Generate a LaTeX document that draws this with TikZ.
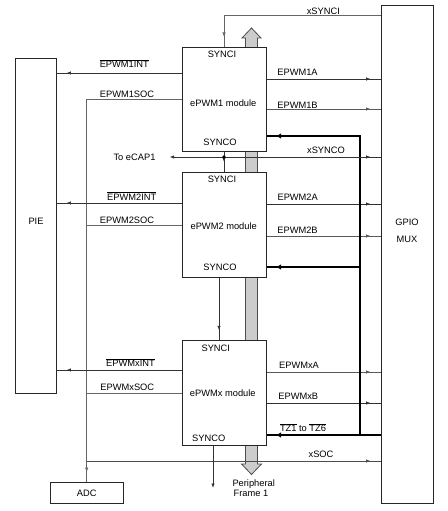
\documentclass[tikz,border=0pt]{standalone}
\usepackage{fontspec}
\setmainfont{Liberation Sans}
\usetikzlibrary{arrows.meta, decorations.markings}
\newcommand{\negsig}[1]{$\overline{\mbox{#1}}$}
\tikzstyle{box} = [rectangle, draw=black!85, line width=0.9pt, fill=white, inner sep=0pt]
\tikzstyle{lab} = [inner sep=0pt]
\tikzstyle{wire} = [line width=0.8pt, black!80]
\tikzstyle{sig} = [wire, postaction={decorate}, decoration={markings, mark=at position -10pt with {\arrow{Latex[length=4.5pt,width=3.5pt]}}}]
\tikzstyle{heavy} = [line width=1.8pt, black, postaction={decorate}, decoration={markings, mark=at position -10pt with {\arrow{Latex[length=5pt,width=5.5pt]}}}]
\tikzstyle{pbus} = [draw=black!70, fill=black!20, line width=0.8pt]
\begin{document}
\begin{tikzpicture}[x=1pt, y=-1pt, font=\fontsize{9.3}{11}\selectfont]
          \useasboundingbox (0,0) rectangle (447,511);
          \draw [pbus] (245.5,38) -- (242,38) -- (251.5,28) -- (261,38) -- (257.5,38) -- (257.5,464) -- (261.5,464) -- (251.5,474.5) -- (241.5,464) -- (245.5,464) -- cycle;
          \node (pie) [box, minimum width=41pt, minimum height=335pt] at (35.5,225.5) {};
          \node (gpio) [box, minimum width=52pt, minimum height=498pt] at (407,254) {};
          \node (adc) [box, minimum width=73pt, minimum height=21pt] at (86.7,493) {ADC};
          \node (ecap) [lab] at (134.5,157) {To eCAP1};
          \coordinate (s1) at (224,157);
          \coordinate (tz) at (360,435);
          \coordinate (pf) at (213,488);
          \draw [sig, black!60] (gpio.west |- 0,15.7) -| (224,47);
          \draw [sig] (182,73) -- (pie.east |- 0,73);
          \draw [sig, black!60] (182,99) -| (adc.north);
          \draw [wire, black!60] (182,225) -- (adc.north |- 0,225);
          \draw [wire, black!60] (182,393) -- (adc.north |- 0,393);
          \draw [sig, black!70] (adc.north |- 0,461) -- (gpio.west |- 0,461);
          \draw [sig] (182,203) -- (pie.east |- 0,203);
          \draw [sig] (182,370) -- (pie.east |- 0,370);
          \draw [sig] (266,79) -- (gpio.west |- 0,79);
          \draw [sig, black!65] (266,109) -- (gpio.west |- 0,109);
          \draw [sig] (266,204) -- (gpio.west |- 0,204);
          \draw [sig, black!65] (266,236) -- (gpio.west |- 0,236);
          \draw [sig, black!65] (266,372) -- (gpio.west |- 0,372);
          \draw [sig] (266,403) -- (gpio.west |- 0,403);
          \draw [heavy] (gpio.west |- tz) -- (266,435);
          \draw [heavy] (tz) |- (266,136);
          \draw [heavy] (tz |- 0,267) -- (266,267);
          \draw [sig] (s1) -- (gpio.west |- s1);
          \draw [wire, -{Latex[length=4.5pt,width=3.5pt]}] (s1) -- ([xshift=14pt]ecap.east);
          \node (m1) [box, minimum width=84pt, minimum height=104pt] at (224,99.5) {};
          \node (m2) [box, minimum width=84pt, minimum height=105pt] at (224,225) {};
          \node (mx) [box, minimum width=84pt, minimum height=105pt] at (224,393.2) {};
          \draw [sig] (m1.south) -- (m2.north);
          \fill (s1) circle (1.8pt);
          \draw [sig] (m2.south -| 219,0) -- (mx.north -| 219,0);
          \draw [wire, -{Latex[length=4.5pt,width=3.5pt]}] (mx.south -| pf) -- (pf);
          \node (m1i) [lab] at (222,54) {SYNCI};
          \node (m1n) [lab] at (223.3,102.7) {ePWM1 module};
          \node (m1o) [lab] at (220,142.7) {SYNCO};
          \node (m2i) [lab] at (222,179) {SYNCI};
          \node (m2n) [lab] at (223.7,225.7) {ePWM2 module};
          \node (m2o) [lab] at (220,267.3) {SYNCO};
          \node (mxi) [lab] at (215.8,348.7) {SYNCI};
          \node (mxn) [lab] at (222.8,392.7) {ePWMx module};
          \node (mxo) [lab] at (208.7,438.3) {SYNCO};
          \node (piel) [lab] at (36,221) {PIE};
          \node (gpiol) [lab] at (407,222.7) {GPIO};
          \node (muxl) [lab] at (407,239) {MUX};
          \node (syi) [lab] at (323.3,11) {xSYNCI};
          \node (syo) [lab] at (326,150.7) {xSYNCO};
          \node (soc) [lab] at (321,454) {xSOC};
          \node (int1) [lab] at (124.3,63.3) {\negsig{EPWM1INT}};
          \node (soc1) [lab] at (127,94) {EPWM1SOC};
          \node (a1) [lab] at (297.5,72) {EPWM1A};
          \node (b1) [lab] at (297.5,105) {EPWM1B};
          \node (int2) [lab] at (131.7,196) {\negsig{EPWM2INT}};
          \node (soc2) [lab] at (127,220) {EPWM2SOC};
          \node (a2) [lab] at (297.7,197.7) {EPWM2A};
          \node (b2) [lab] at (297.5,230) {EPWM2B};
          \node (intx) [lab] at (130.5,362.7) {\negsig{EPWMxINT}};
          \node (socx) [lab] at (127.3,387.7) {EPWMxSOC};
          \node (ax) [lab] at (299,365) {EPWMxA};
          \node (bx) [lab] at (298.3,396.7) {EPWMxB};
          \node (tzl) [lab] at (303,427.7) {\negsig{TZ1} to \negsig{TZ6}};
          \node (per) [lab] at (253.7,483.7) {Peripheral};
          \node (frm) [lab] at (251,493.3) {Frame 1};
        \end{tikzpicture}
\end{document}
